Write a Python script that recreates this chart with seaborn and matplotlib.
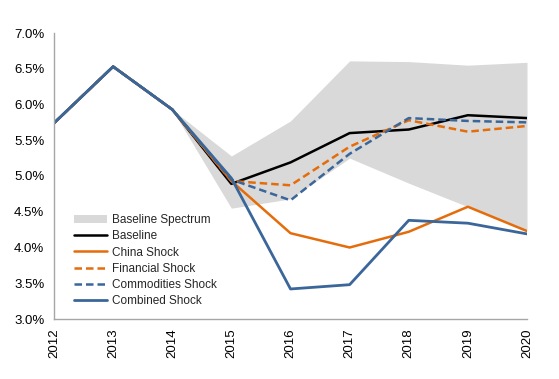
import numpy as np
import pandas as pd
import matplotlib
matplotlib.use('Agg')
import matplotlib.pyplot as plt
from matplotlib.ticker import FuncFormatter
import seaborn as sns

years = [2012, 2013, 2014, 2015, 2016, 2017, 2018, 2019, 2020]

# spectrum band only starts after 2014
band_years = [2014, 2015, 2016, 2017, 2018, 2019, 2020]
band_low = [5.93, 4.55, 4.68, 5.25, 4.90, 4.57, 4.24]
band_high = [5.93, 5.28, 5.77, 6.61, 6.60, 6.55, 6.59]

baseline = [5.74, 6.53, 5.93, 4.89, 5.19, 5.60, 5.65, 5.85, 5.81]
china = [5.74, 6.53, 5.93, 4.93, 4.20, 4.00, 4.22, 4.57, 4.23]
financial = [5.74, 6.53, 5.93, 4.93, 4.87, 5.41, 5.78, 5.62, 5.70]
commodities = [5.74, 6.53, 5.93, 4.95, 4.66, 5.31, 5.81, 5.77, 5.75]
combined = [5.74, 6.53, 5.93, 4.97, 3.42, 3.48, 4.38, 4.34, 4.19]

sns.set_style('white')
plt.rcParams['font.family'] = ['Liberation Sans', 'DejaVu Sans']
plt.rcParams['font.size'] = 9

orange = '#E46C0A'
blue = '#3A6699'

fig = plt.figure(figsize=(5.59, 3.79), dpi=100)
ax = fig.add_axes([54/559, 1 - 319/379, 473/559, 286/379])

ax.fill_between(band_years, band_low, band_high, color='#D9D9D9', lw=0,
                label='Baseline Spectrum')

sns.lineplot(x=years, y=baseline, ax=ax, color='black', lw=1.8, label='Baseline')
sns.lineplot(x=years, y=china, ax=ax, color=orange, lw=1.8, label='China Shock')
sns.lineplot(x=years, y=financial, ax=ax, color=orange, lw=1.8, label='Financial Shock')
sns.lineplot(x=years, y=commodities, ax=ax, color=blue, lw=1.8, label='Commodities Shock')
sns.lineplot(x=years, y=combined, ax=ax, color=blue, lw=2.0, label='Combined Shock')
# dashed ones
ax.lines[2].set_linestyle((0, (3, 1.6)))
ax.lines[3].set_linestyle((0, (3, 1.6)))

ax.set_xlim(2012, 2020)
ax.set_ylim(3.0, 7.0)
ax.set_xticks(years)
ax.set_xticklabels([str(y) for y in years], rotation=90)
ax.set_yticks(np.arange(3.0, 7.01, 0.5))
ax.yaxis.set_major_formatter(FuncFormatter(lambda v, p: '%.1f%%' % v))

for s in ['top', 'right']:
    ax.spines[s].set_visible(False)
for s in ['left', 'bottom']:
    ax.spines[s].set_color('#A6A6A6')
    ax.spines[s].set_linewidth(1.0)
ax.tick_params(axis='both', direction='out', length=4, width=1, color='#A6A6A6',
               labelsize=9.5, labelcolor='black', pad=3)
ax.set_xlabel('')
ax.set_ylabel('')

handles, labels = ax.get_legend_handles_labels()
leg = ax.legend(handles, labels, loc='lower left', bbox_to_anchor=(0.02, 0.005),
                frameon=False, handlelength=2.8, labelspacing=0.35, handletextpad=0.4,
                fontsize=8.5)

fig.savefig('out.png', dpi=100)
